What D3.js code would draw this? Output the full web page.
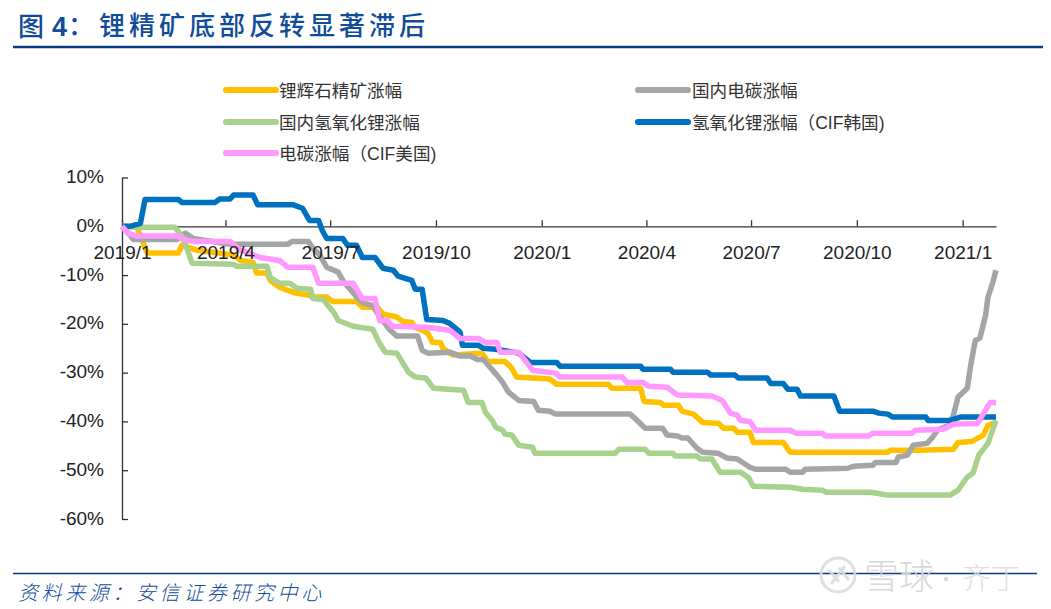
<!DOCTYPE html>
<html>
<head>
<meta charset="utf-8">
<style>
  body { margin: 0; background: #fff; }
  text { font-family: "Liberation Sans", "Noto Sans CJK SC", sans-serif; fill: #222; }
</style>
<script src="https://cdn.jsdelivr.net/npm/d3@7"></script>
</head>
<body>
<svg id="chart" width="1051" height="609"></svg>
<script>
// x = days since 2019/1/1, y = change in %
const spodumene = [[0,0],[13,-0.2],[22,-5.5],[49,-5.5],[52,-3.9],[65,-4.9],[97,-5.9],[103,-7],[114,-7.4],[117,-9.6],[126,-9.6],[129,-11.1],[137,-12.5],[151,-13.7],[162,-14.1],[166,-14.5],[178,-14.5],[183,-15.4],[204,-15.4],[209,-16.6],[222,-16.6],[227,-18],[239,-18.6],[244,-19.5],[252,-19.7],[255,-20.7],[266,-21.9],[270,-23.8],[277,-23.8],[279,-25],[288,-26.4],[313,-26],[318,-27.7],[333,-27.7],[339,-29.1],[343,-30.9],[372,-31.3],[378,-32.4],[423,-32.4],[426,-33.2],[451,-33.2],[454,-35.9],[468,-36.1],[471,-36.7],[484,-36.7],[487,-37.9],[497,-38.5],[505,-40.2],[519,-40.4],[523,-41.4],[532,-41.4],[535,-42.2],[546,-42.2],[549,-44.3],[575,-44.3],[581,-46.3],[666,-46.3],[668,-45.9],[692,-45.9],[723,-45.7],[727,-44.3],[739,-44.1],[749,-42.8],[753,-40.8],[760,-40.2]];
const carbonCn = [[0,0],[7,-1.8],[10,-2.7],[48,-2.7],[55,-1.4],[62,-2.5],[94,-3.7],[144,-3.7],[148,-3.1],[162,-3.1],[166,-4.5],[172,-5.9],[178,-8.4],[188,-9.4],[192,-11.1],[204,-14.5],[210,-15.8],[218,-16.2],[222,-17.8],[233,-21.3],[239,-22.5],[257,-22.5],[261,-25.4],[266,-26],[285,-25.8],[294,-26.6],[303,-26.6],[309,-27.3],[314,-27.3],[320,-28.9],[326,-30.5],[331,-32],[336,-34],[345,-35.7],[358,-35.9],[362,-37.7],[372,-37.9],[377,-38.5],[442,-38.5],[448,-39.8],[455,-41.4],[470,-41.4],[474,-42.8],[483,-43],[487,-43.4],[492,-43.4],[500,-45.5],[505,-46.3],[518,-46.5],[526,-47.5],[535,-47.7],[546,-49.4],[551,-49.8],[577,-49.8],[581,-50.4],[592,-50.4],[594,-49.8],[631,-49.6],[636,-49.2],[653,-49],[655,-48.4],[673,-48.4],[675,-47.3],[683,-46.9],[688,-44.9],[700,-44.5],[705,-43.2],[709,-41.8],[719,-40.8],[723,-38.7],[727,-35],[735,-33.2],[738,-28.5],[742,-23.4],[746,-22.9],[751,-18.2],[753,-14.5],[757,-11.7],[760,-9]];
const hydroxideCn = [[0,0],[16,-0.2],[46,-0.2],[53,-2.3],[61,-7.6],[97,-7.8],[100,-8.2],[126,-8.2],[129,-10.5],[137,-11.7],[146,-11.7],[152,-12.7],[164,-12.9],[166,-14.8],[175,-15],[184,-17.6],[188,-19.3],[201,-20.5],[218,-21.1],[224,-24],[229,-25.8],[239,-26],[249,-29.9],[255,-30.9],[264,-31.1],[271,-33.2],[297,-33.6],[301,-36.1],[313,-36.1],[316,-38.1],[322,-39.8],[325,-41.2],[331,-41.8],[333,-42.6],[339,-42.8],[345,-44.9],[357,-45.3],[359,-46.5],[429,-46.5],[432,-45.7],[455,-45.7],[458,-46.5],[479,-46.5],[481,-47.1],[500,-47.1],[503,-47.7],[513,-47.7],[520,-50.4],[538,-50.4],[545,-51.6],[549,-53.3],[581,-53.5],[592,-53.9],[609,-54.1],[612,-54.5],[651,-54.5],[666,-55.1],[720,-55.1],[727,-54.1],[735,-51.4],[740,-50.6],[745,-46.9],[753,-44.5],[757,-41.8],[760,-39.8]];
const hydroxideKr = [[0,0],[7,0],[16,0.6],[20,5.5],[49,5.5],[52,4.9],[81,4.9],[85,5.6],[94,5.6],[97,6.4],[114,6.4],[118,4.4],[149,4.4],[157,3.7],[163,1.2],[171,1.2],[174,-0.8],[178,-2.5],[192,-2.5],[196,-3.9],[204,-3.9],[209,-6.4],[220,-6.4],[227,-8.6],[236,-9],[240,-10.2],[252,-11.1],[255,-12.9],[261,-12.9],[265,-19.1],[279,-19.3],[285,-19.9],[294,-21.7],[296,-24.4],[310,-24.4],[314,-25],[325,-25.2],[345,-26],[355,-27.9],[378,-27.9],[381,-28.7],[451,-28.7],[453,-29.3],[477,-29.3],[479,-29.9],[509,-29.9],[512,-30.5],[533,-30.5],[536,-31.1],[561,-31.1],[564,-32.2],[575,-32.2],[579,-33.4],[587,-33.4],[590,-34.8],[619,-34.8],[624,-37.9],[653,-37.9],[658,-38.3],[666,-38.5],[670,-39.1],[699,-39.1],[701,-39.8],[720,-39.8],[729,-39.1],[760,-39.1]];
const carbonUs = [[0,0],[5,-1.4],[13,-2],[48,-2],[53,-2.7],[62,-3.1],[94,-3.1],[103,-4.9],[120,-6.4],[137,-7],[144,-8.4],[166,-8.4],[171,-11.7],[201,-11.7],[209,-14.8],[220,-14.8],[224,-19.3],[231,-19.3],[235,-20.5],[265,-20.7],[285,-21.3],[294,-23],[310,-23],[316,-23.8],[326,-23.8],[329,-25.8],[345,-25.8],[357,-29.5],[364,-29.7],[377,-30.1],[381,-30.9],[435,-30.9],[439,-32],[453,-32],[458,-32.8],[474,-33],[483,-34.6],[513,-34.8],[522,-35.7],[529,-38.3],[535,-38.7],[538,-39.8],[546,-40],[551,-41.8],[581,-41.8],[586,-42.4],[609,-42.4],[612,-43],[649,-43],[653,-42.4],[687,-42.4],[690,-41.8],[714,-41.6],[723,-40.6],[744,-40.4],[755,-36.1],[760,-36.1]];

const names = ['锂辉石精矿涨幅', '国内电碳涨幅', '国内氢氧化锂涨幅', '氢氧化锂涨幅\uFF08CIF韩国)', '电碳涨幅\uFF08CIF美国)'];
const colors = ['#FFC000', '#A5A5A5', '#A9D18E', '#0070C0', '#FF99FF'];
const seriesList = [spodumene, carbonCn, hydroxideCn, hydroxideKr, carbonUs];

const xTickDays = [0, 90, 181, 273, 365, 456, 547, 639, 731];
const xTickLabels = ['2019/1', '2019/4', '2019/7', '2019/10', '2020/1', '2020/4', '2020/7', '2020/10', '2021/1'];
const yTicks = [10, 0, -10, -20, -30, -40, -50, -60];

const svg = d3.select('#chart');
const navy = '#0B3A84';

const x = d3.scaleLinear().domain([0, 760]).range([122, 996]);
const y = d3.scaleLinear().domain([10, -60]).range([177.5, 519]);

// header and footer
svg.append('text').attr('x', 18).attr('y', 36)
  .style('fill', '#114C9A').style('font-size', '26px').style('font-weight', 500)
  .style('font-family', '"Noto Sans CJK SC"')
  .text('图');
svg.append('text').attr('x', 52).attr('y', 36)
  .style('fill', '#114C9A').style('font-size', '27px').style('font-weight', 700)
  .text('4');
svg.append('text').attr('x', 68).attr('y', 35)
  .style('fill', '#114C9A').style('font-size', '26px').style('font-weight', 500)
  .style('font-family', '"Noto Sans CJK SC"')
  .text('\uFF1A');
svg.append('text').attr('x', 99).attr('y', 35)
  .style('fill', '#114C9A').style('font-size', '26px').style('font-weight', 500)
  .style('font-family', '"Noto Sans CJK SC"').style('letter-spacing', '4px')
  .text('锂精矿底部反转显著滞后');
svg.append('line').attr('x1', 13).attr('x2', 1043).attr('y1', 47).attr('y2', 47)
  .attr('stroke', navy).attr('stroke-width', 2.5);
svg.append('line').attr('x1', 13).attr('x2', 1037).attr('y1', 573.5).attr('y2', 573.5)
  .attr('stroke', navy).attr('stroke-width', 1.5);
svg.append('text').attr('x', 18).attr('y', 600)
  .style('fill', '#114C9A').style('font-size', '20px').style('font-style', 'italic')
  .style('font-family', '"Noto Sans CJK SC"').style('font-weight', 300).style('letter-spacing', '3.6px')
  .text('资料来源\uFF1A安信证券研究中心');

// axes, lines go above the axis lines but under the labels
const xAxis = d3.axisBottom(x).tickValues(xTickDays)
  .tickFormat((d, i) => xTickLabels[i])
  .tickSizeInner(-6).tickSizeOuter(0).tickPadding(19);
const yAxis = d3.axisLeft(y).tickValues(yTicks)
  .tickFormat((d) => d + '%')
  .tickSizeInner(-6).tickSizeOuter(0).tickPadding(18);

const styleAxis = (g) => {
  g.selectAll('path, line').attr('stroke', '#333').attr('stroke-width', 1.3);
  g.selectAll('text').style('font-size', '19px').style('fill', '#222');
};

const axisLines = svg.append('g');
axisLines.append('g').attr('transform', `translate(0,${y(0)})`).call(xAxis).call(styleAxis).selectAll('text').remove();
axisLines.append('g').attr('transform', `translate(${x(0)},0)`).call(yAxis).call(styleAxis).selectAll('text').remove();

const line = d3.line().x((d) => x(d[0])).y((d) => y(d[1]));

svg.append('g').selectAll('path')
  .data(seriesList)
  .enter()
  .append('path')
  .attr('d', line)
  .attr('fill', 'none')
  .attr('stroke', (d, i) => colors[i])
  .attr('stroke-width', 5.5)
  .attr('stroke-linejoin', 'round');

const axisText = svg.append('g');
const xTop = axisText.append('g').attr('transform', `translate(0,${y(0)})`).call(xAxis).call(styleAxis);
xTop.selectAll('path, line').remove();
const yTop = axisText.append('g').attr('transform', `translate(${x(0)},-1)`).call(yAxis).call(styleAxis);
yTop.selectAll('path, line').remove();

// legend
const legendX = [226, 638];
const legendY = [90, 122, 153];
const legend = svg.append('g').selectAll('g')
  .data(names)
  .enter()
  .append('g')
  .attr('transform', (d, i) => `translate(${legendX[i % 2]},${legendY[Math.floor(i / 2)]})`);
legend.append('line')
  .attr('x1', 0).attr('x2', 50)
  .attr('stroke', (d, i) => colors[i])
  .attr('stroke-width', 6)
  .attr('stroke-linecap', 'round');
legend.append('text')
  .attr('x', (d, i) => i % 2 ? 54 : 53)
  .attr('y', 7)
  .style('font-size', '17.6px')
  .style('fill', '#333')
  .text((d) => d);

// watermark
const mark = svg.append('g').attr('opacity', 0.9);
mark.append('circle').attr('cx', 838).attr('cy', 575).attr('r', 17)
  .attr('fill', 'none').attr('stroke', '#DDD').attr('stroke-width', 3);
mark.append('path').attr('d', 'M829 570 L839 582 M839 568 L849 580 M831 584 L845 566')
  .attr('fill', 'none').attr('stroke', '#DDD').attr('stroke-width', 3);
mark.append('text').attr('x', 864).attr('y', 589)
  .style('fill', '#D4D4D4').style('font-size', '35px')
  .style('font-family', '"Noto Sans CJK SC"').style('font-weight', 300)
  .text('雪球');
mark.append('text').attr('x', 940).attr('y', 589)
  .style('fill', '#D4D4D4').style('font-size', '35px')
  .text('·');
mark.append('text').attr('x', 962).attr('y', 589)
  .style('fill', '#DDD').style('font-size', '29px')
  .style('font-family', '"Noto Sans CJK SC"').style('font-weight', 300)
  .text('齐丁');
</script>
</body>
</html>
